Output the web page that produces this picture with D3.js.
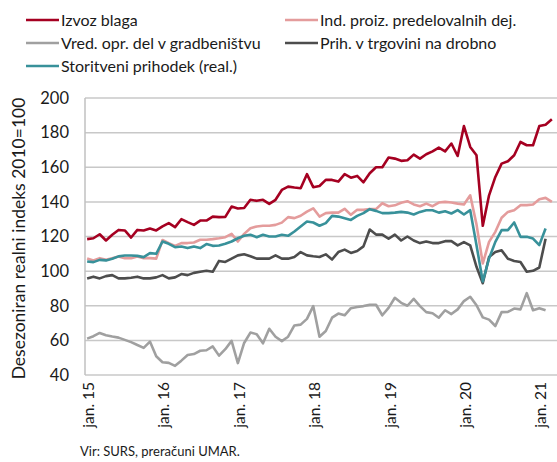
<!DOCTYPE html>
<html>
<head>
<meta charset="utf-8">
<script src="https://d3js.org/d3.v7.min.js"></script>
<style>
  body { margin: 0; background: #fff; }
  text { font-family: Lato, "Open Sans", sans-serif; fill: #1a1a1a; }
</style>
</head>
<body>
<script>
  // months jan. 2015 - mar. 2021
  var months = d3.range(75).map(function(i) { return new Date(2015, i, 1); });

  var izvoz = [118.5, 119, 121.3, 117.7, 121, 123.8, 123.5, 119.4, 123.8, 123.5,
    124.6, 123.5, 125.8, 127.7, 125.4, 130, 128.3, 126.7, 129.2, 129.2,
    131.5, 131.2, 131.3, 137.3, 136.2, 136.5, 141.2, 140.6, 141.2, 138.8,
    141.2, 146.9, 148.8, 148.3, 147.9, 156, 148.5, 149.2, 152.7, 152.7,
    151.7, 156, 154, 155, 151.3, 156.5, 160, 160, 165.6, 165,
    163.7, 164, 167.3, 165, 167.5, 169.2, 171.3, 169.2, 173.7, 166.5,
    183.8, 171.7, 166.9, 126.2, 143.8, 154.4, 162.1, 163.5, 166.9, 174.6,
    172.7, 172.7, 183.8, 184.6, 187.7];

  var predelovalne = [107.3, 106.2, 107.5, 106.5, 107.5, 108.5, 107.5, 107.5, 108.5, 107.5,
    107.5, 107.2, 118, 116.2, 114.6, 116.2, 116.2, 116.5, 118.1, 118.1,
    118.5, 119, 119.6, 121.5, 117.1, 121.5, 124.8, 125.8, 126.2, 126.2,
    126.7, 128, 131.2, 130.6, 132, 134.4, 136.3, 131.5, 133.5, 133.8,
    133.8, 136, 132.5, 135.4, 135.4, 135.8, 135.8, 139.2, 137.5, 138,
    139.5, 140.4, 138.5, 137.5, 139, 137.5, 139.6, 140, 139.6, 139,
    138.5, 143.8, 127, 104.4, 116.9, 122.7, 130.8, 134.2, 135.2, 138.1,
    138.1, 138.5, 141.5, 142.3, 140];

  var gradbenistvo = [61, 62.4, 64.3, 63, 62.2, 61.6, 60.3, 59, 57.3, 55.7,
    59.3, 50.8, 47.4, 47, 45.3, 48.3, 51.5, 52.1, 54, 54.3,
    56.5, 51.2, 54.9, 59.7, 46.9, 58.5, 64.5, 63.6, 58.3, 66.7,
    62.1, 59.6, 62.1, 68.6, 69.1, 72.4, 79.8, 62.1, 65.4, 73.1,
    75.5, 74.5, 78.6, 79.3, 79.8, 80.5, 80.6, 74.5, 78.8, 84.6,
    81.7, 80, 84, 79.8, 76.3, 75.7, 73.1, 77.4, 75.2, 77.9,
    82.7, 85.2, 80.3, 73.3, 72, 68.3, 76.3, 76.4, 78.4, 77.9,
    87.3, 77.4, 78.6, 77.4];

  var trgovina = [95.8, 96.8, 95.8, 97.1, 97.7, 95.8, 95.8, 96.2, 96.8, 95.8,
    95.8, 96.4, 97.7, 95.8, 96.4, 98.3, 97.7, 99, 99.6, 100.2,
    99.6, 105.9, 105.3, 107.2, 109.1, 109.7, 108.6, 107.2, 107.2, 107.2,
    109.1, 107.2, 107.2, 108.2, 111, 109.1, 108.6, 108.2, 109.7, 106.7,
    111, 112.4, 110.5, 111.6, 114.3, 124, 121.1, 121.1, 118.7, 121.1,
    117.7, 120, 117.7, 116.2, 117.1, 116.2, 116.2, 117.3, 117.3, 114.9,
    116.8, 114.9, 102.5, 93, 108.2, 111, 112, 107.2, 105.9, 105.3,
    99.6, 100.2, 102.1, 118.7];

  var storitve = [105.6, 105.2, 106.5, 106.2, 107.1, 108.5, 109, 109, 108.8, 108.1,
    110.4, 110, 117.1, 115.8, 113.8, 114.2, 113.3, 114.2, 113.3, 115.6,
    114.6, 114.8, 115.8, 117.1, 119, 120.4, 121, 119.6, 121, 120,
    120, 121, 120.4, 122.9, 125.8, 128.7, 128.1, 126.2, 127.7, 131.9,
    131.5, 130.6, 129.6, 131.9, 133.5, 135.8, 134.8, 133.5, 133.5, 133.8,
    134.2, 133.8, 132.7, 134.2, 135.2, 135.2, 133.8, 134.6, 133.3, 135.2,
    132.7, 135.2, 115, 94, 107.3, 116.9, 123.7, 123.7, 128.1, 119.8,
    119.8, 118.8, 115, 124.6];

  var yTicks = [40, 60, 80, 100, 120, 140, 160, 180, 200];

  var series = [
    { name: "Izvoz blaga", values: izvoz, color: "#a50021" },
    { name: "Ind. proiz. predelovalnih dej.", values: predelovalne, color: "#e49c9c" },
    { name: "Vred. opr. del v gradbeništvu", values: gradbenistvo, color: "#a0a0a0" },
    { name: "Prih. v trgovini na drobno", values: trgovina, color: "#4d4d4d" },
    { name: "Storitveni prihodek (real.)", values: storitve, color: "#38919a" }
  ];

  var width = 557, height = 462;
  var margin = { top: 98, right: 2, bottom: 87, left: 85 };

  var svg = d3.select("body").append("svg")
    .attr("width", width)
    .attr("height", height);

  var x = d3.scalePoint()
    .domain(d3.range(months.length))
    .range([margin.left - 1, width - margin.right])
    .padding(0.5);

  var y = d3.scaleLinear()
    .domain([40, 200])
    .range([height - margin.bottom, margin.top]);

  // gridlines
  svg.append("g")
    .selectAll("line")
    .data(yTicks)
    .enter().append("line")
    .attr("x1", margin.left)
    .attr("x2", width)
    .attr("y1", function(d) { return y(d); })
    .attr("y2", function(d) { return y(d); })
    .attr("stroke", "#c8c8c8")
    .attr("stroke-width", 1.5);

  // left axis line
  svg.append("line")
    .attr("x1", margin.left).attr("x2", margin.left)
    .attr("y1", y(200)).attr("y2", y(40))
    .attr("stroke", "#c0c0c0")
    .attr("stroke-width", 1.5);

  // y labels
  svg.append("g")
    .selectAll("text")
    .data(yTicks)
    .enter().append("text")
    .attr("x", 69)
    .attr("y", function(d) { return y(d); })
    .attr("dy", "0.35em")
    .attr("text-anchor", "end")
    .style("font-size", "16.5px")
    .text(function(d) { return d; });

  svg.append("text")
    .attr("transform", "translate(25," + ((y(200) + y(40)) / 2 + 2) + ") rotate(-90)")
    .attr("text-anchor", "middle")
    .style("font-size", "17.5px")
    .text("Desezoniran realni indeks 2010=100");

  // x labels, every january
  var janIdx = d3.range(0, months.length, 12);
  svg.append("g")
    .selectAll("text")
    .data(janIdx)
    .enter().append("text")
    .attr("transform", function(i) {
      return "translate(" + (x(i) + 1.5) + "," + (y(40) + 7) + ") rotate(-90)";
    })
    .attr("dy", "0.35em")
    .attr("text-anchor", "end")
    .style("font-size", "15.5px")
    .text(function(i) { return "jan. " + d3.timeFormat("%y")(months[i]); });

  var line = d3.line()
    .x(function(d, i) { return x(i); })
    .y(function(d) { return y(d); });

  var drawOrder = [2, 3, 1, 4, 0];
  svg.append("g")
    .selectAll("path")
    .data(drawOrder.map(function(k) { return series[k]; }))
    .enter().append("path")
    .attr("d", function(s) { return line(s.values); })
    .attr("fill", "none")
    .attr("stroke", function(s) { return s.color; })
    .attr("stroke-width", 2.6)
    .attr("stroke-linejoin", "round");

  // legend
  var legPos = [[26, 20], [285, 20], [26, 43], [285, 43], [26, 66]];
  var leg = svg.append("g")
    .selectAll("g")
    .data(series)
    .enter().append("g")
    .attr("transform", function(d, i) { return "translate(" + legPos[i][0] + "," + legPos[i][1] + ")"; });

  leg.append("line")
    .attr("x1", 0).attr("x2", 33)
    .attr("stroke", function(d) { return d.color; })
    .attr("stroke-width", 2.6);

  leg.append("text")
    .attr("x", 35)
    .attr("dy", "0.35em")
    .style("font-size", "16px")
    .text(function(d) { return d.name; });

  svg.append("text")
    .attr("x", 80)
    .attr("y", 456)
    .style("font-size", "13px")
    .text("Vir: SURS, preračuni UMAR.");
</script>
</body>
</html>
